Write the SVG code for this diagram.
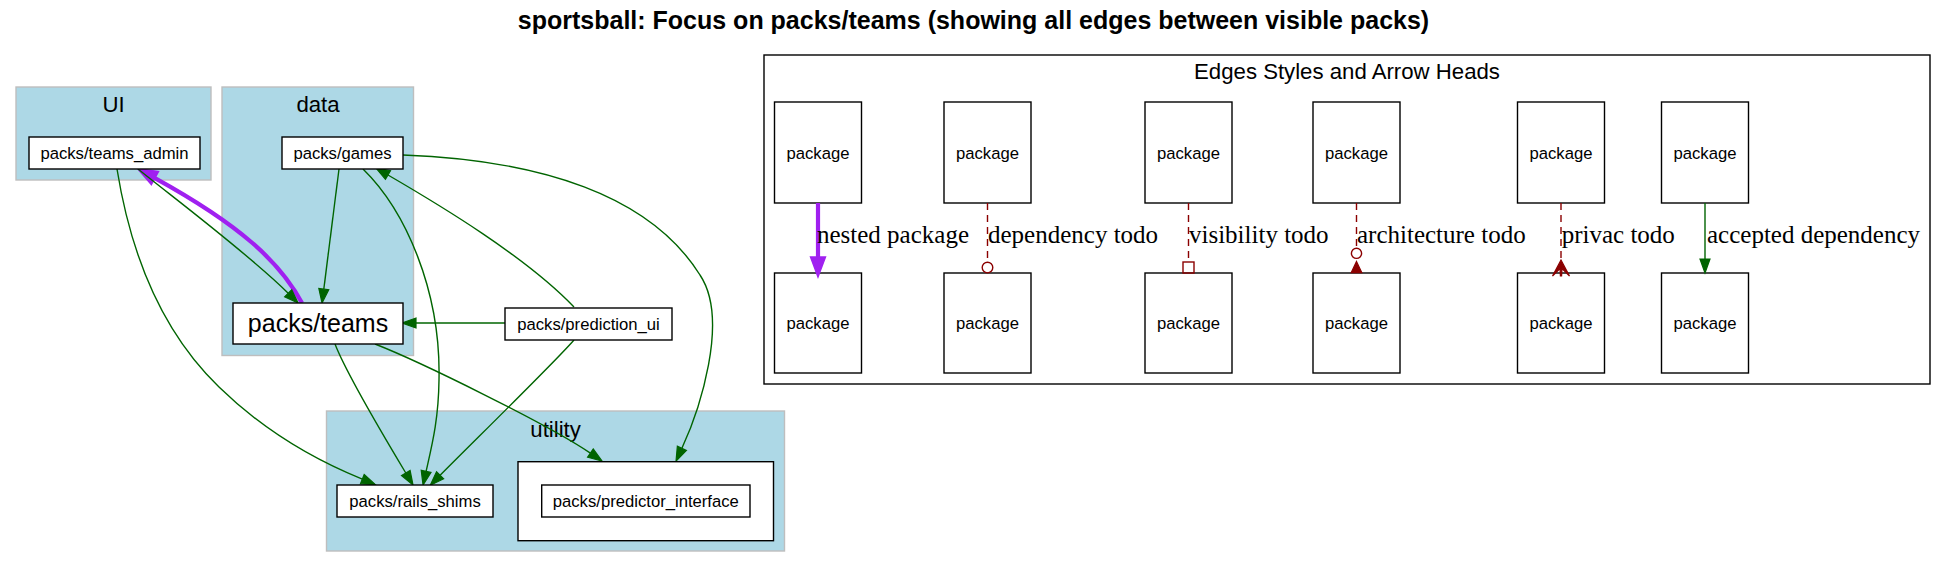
<svg xmlns="http://www.w3.org/2000/svg" width="1947" height="568" viewBox="0 0 1947 568">
<style>
.cl{fill:#add8e6;stroke:#bebebe;stroke-width:1.4}
.nd{fill:#fff;stroke:#000;stroke-width:1.4}
.t{font-family:"Liberation Sans",Arial,sans-serif;fill:#000;text-anchor:middle}
.n{font-size:16.67px}
.big{font-size:25px}
.cll{font-size:22.2px}
.title{font-size:25px;font-weight:bold}
.el{font-family:"Liberation Serif","Times New Roman",serif;font-size:25px;fill:#000}
.g{fill:none;stroke:#006400;stroke-width:1.4}
.p{fill:none;stroke:#a020f0;stroke-width:4.2}
.r{fill:none;stroke:#8b0000;stroke-width:1.4;stroke-dasharray:7,5}
.rh{fill:none;stroke:#8b0000;stroke-width:1.4}
.rf{fill:#8b0000;stroke:#8b0000;stroke-width:1.2}
</style>
<defs>
<marker id="ag" markerUnits="userSpaceOnUse" markerWidth="16" markerHeight="12" refX="0" refY="5" orient="auto" overflow="visible"><path d="M0,0 L14,5 L0,10 z" fill="#006400" stroke="#006400" stroke-width="1.2"/></marker>
<marker id="ap" markerUnits="userSpaceOnUse" markerWidth="22" markerHeight="16" refX="0" refY="7.5" orient="auto" overflow="visible"><path d="M0,0 L20,7.5 L0,15 z" fill="#a020f0" stroke="#a020f0" stroke-width="1.4"/></marker>
</defs>
<rect x="0" y="0" width="1947" height="568" fill="#fff"/>
<text class="t title" x="973.5" y="29">sportsball: Focus on packs/teams (showing all edges between visible packs)</text>

<g id="cluster_UI"><rect class="cl" x="16" y="87" width="195" height="93"/><text class="t cll" x="113.5" y="112">UI</text></g>
<g id="cluster_data"><rect class="cl" x="222" y="87" width="191.5" height="268.5"/><text class="t cll" x="318" y="112">data</text></g>
<g id="cluster_utility"><rect class="cl" x="326.5" y="411" width="458" height="140"/><text class="t cll" x="555.6" y="437">utility</text></g>

<g id="connectors">
<path class="g" d="M117,169 C130,250 160,330 219,387 C260,427 310,458 362.3,479.2" marker-end="url(#ag)"/>
<path class="p" d="M302,303 C280,262 240,225 154.9,178.1" marker-end="url(#ap)"/>
<path class="g" d="M138,169 C170,195 250,255 288.2,293.2" marker-end="url(#ag)"/>
<path class="g" d="M339,169 L323.8,289.1" marker-end="url(#ag)"/>
<path class="g" d="M505,323 L416,323" marker-end="url(#ag)"/>
<path class="g" d="M574,307 C525.7,256.6 439.6,205 388,175" marker-end="url(#ag)"/>
<path class="g" d="M363,169 C405,210 441,290 439,380 C438.5,420 432,445 426.1,471.4" marker-end="url(#ag)"/>
<path class="g" d="M403,155 C540,160 650,195 700,275 C730,320 698.7,411.9 681.9,448.3" marker-end="url(#ag)"/>
<path class="g" d="M335,344 C345,370 380,430 405.8,473" marker-end="url(#ag)"/>
<path class="g" d="M375,344 C421,362 549,425 590.4,453.1" marker-end="url(#ag)"/>
<path class="g" d="M574,340 C555,362 470,445 440.1,475.3" marker-end="url(#ag)"/>
</g>

<g id="packs_teams_admin"><rect class="nd" x="29" y="137" width="171" height="32"/><text class="t n" x="114.5" y="158.8">packs/teams_admin</text></g>
<g id="packs_games"><rect class="nd" x="282" y="137" width="121" height="32"/><text class="t n" x="342.5" y="158.8">packs/games</text></g>
<g id="packs_teams"><rect class="nd" x="233" y="303" width="170" height="41"/><text class="t big" x="318" y="332">packs/teams</text></g>
<g id="packs_prediction_ui"><rect class="nd" x="505" y="308" width="167" height="32"/><text class="t n" x="588.5" y="330">packs/prediction_ui</text></g>
<g id="packs_rails_shims"><rect class="nd" x="337" y="485" width="156" height="32"/><text class="t n" x="415" y="507">packs/rails_shims</text></g>
<g id="packs_predictor_interface_cluster"><rect class="nd" x="518" y="461.7" width="255.5" height="79"/></g>
<g id="packs_predictor_interface"><rect class="nd" x="541.7" y="485" width="208.3" height="32"/><text class="t n" x="645.8" y="507">packs/predictor_interface</text></g>

<g id="legend">
<rect x="764" y="55" width="1166" height="329" fill="#fff" stroke="#000" stroke-width="1.4"/>
<text class="t cll" x="1347" y="79">Edges Styles and Arrow Heads</text>
</g>

<g id="legend_nodes">
<g id="l1a"><rect class="nd" x="774.5" y="102" width="87" height="101"/><text class="t n" x="818" y="158.5">package</text></g>
<g id="l1b"><rect class="nd" x="774.5" y="273" width="87" height="100"/><text class="t n" x="818" y="329">package</text></g>
<g id="l2a"><rect class="nd" x="944" y="102" width="87" height="101"/><text class="t n" x="987.5" y="158.5">package</text></g>
<g id="l2b"><rect class="nd" x="944" y="273" width="87" height="100"/><text class="t n" x="987.5" y="329">package</text></g>
<g id="l3a"><rect class="nd" x="1145" y="102" width="87" height="101"/><text class="t n" x="1188.5" y="158.5">package</text></g>
<g id="l3b"><rect class="nd" x="1145" y="273" width="87" height="100"/><text class="t n" x="1188.5" y="329">package</text></g>
<g id="l4a"><rect class="nd" x="1313" y="102" width="87" height="101"/><text class="t n" x="1356.5" y="158.5">package</text></g>
<g id="l4b"><rect class="nd" x="1313" y="273" width="87" height="100"/><text class="t n" x="1356.5" y="329">package</text></g>
<g id="l5a"><rect class="nd" x="1517.5" y="102" width="87" height="101"/><text class="t n" x="1561" y="158.5">package</text></g>
<g id="l5b"><rect class="nd" x="1517.5" y="273" width="87" height="100"/><text class="t n" x="1561" y="329">package</text></g>
<g id="l6a"><rect class="nd" x="1661.5" y="102" width="87" height="101"/><text class="t n" x="1705" y="158.5">package</text></g>
<g id="l6b"><rect class="nd" x="1661.5" y="273" width="87" height="100"/><text class="t n" x="1705" y="329">package</text></g>
</g>

<g id="legend_connectors">
<path class="p" d="M818,203 L818,257" marker-end="url(#ap)"/>
<text class="el" x="817" y="242.5">nested package</text>
<path class="r" d="M987.5,203 L987.5,262"/>
<circle class="rh" cx="987.5" cy="267.6" r="5.3"/>
<text class="el" x="988" y="242.5">dependency todo</text>
<path class="r" d="M1188.5,203 L1188.5,262"/>
<rect class="rh" x="1183" y="262" width="11" height="11"/>
<text class="el" x="1189" y="242.5">visibility todo</text>
<path class="r" d="M1356.5,203 L1356.5,248"/>
<circle class="rh" cx="1356.5" cy="253.3" r="5.1"/>
<path class="rf" d="M1356.5,261.5 L1361.8,272.7 L1351.2,272.7 z"/>
<text class="el" x="1357" y="242.5">architecture todo</text>
<path class="r" d="M1561,203 L1561,260"/>
<path class="rf" d="M1561,260 L1569.5,276 L1562,268.5 L1561.6,276 L1560.4,276 L1560,268.5 L1552.5,276 z"/>
<text class="el" x="1561.7" y="242.5">privac todo</text>
<path class="g" d="M1705,203 L1705,259" marker-end="url(#ag)"/>
<text class="el" x="1707" y="242.5">accepted dependency</text>
</g>
</svg>
